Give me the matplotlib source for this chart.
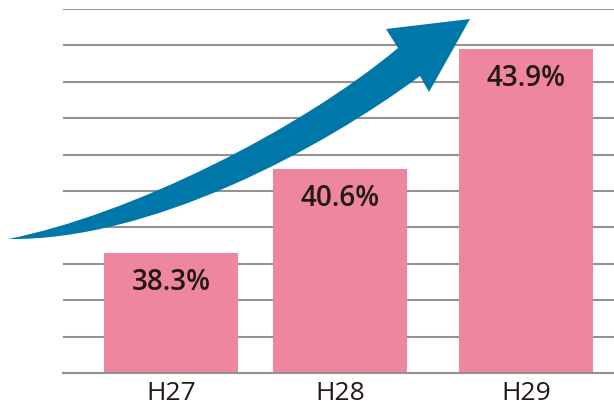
import numpy as np
import matplotlib
matplotlib.use('Agg')
import matplotlib.pyplot as plt
from matplotlib.path import Path
from matplotlib.patches import PathPatch
from matplotlib.transforms import Affine2D

years = ['H27', 'H28', 'H29']
rates = [38.3, 40.6, 43.9]
labels = ['38.3%', '40.6%', '43.9%']

pink = '#EE86A0'
blue = '#0077A9'
ink = '#231815'
grid = '#929292'

W, H = 614, 405
fig = plt.figure(figsize=(W / 100, H / 100), dpi=100)
ax = fig.add_axes([63 / W, 1 - 373 / H, 1 - 63 / W, (373 - 9) / H])

# the middle bar sits a little left of centre in the original
x = np.array([0, 0.955, 2])
ax.bar(x, rates, width=0.755, color=pink, zorder=2)
ax.set_ylim(35, 45)
ax.set_xlim(-0.608, 2.496)
ax.set_yticks(np.arange(35, 46, 1))
ax.yaxis.grid(True, color=grid, linewidth=1.5, zorder=0)
ax.tick_params(axis='y', left=False, labelleft=False)
ax.tick_params(axis='x', length=0, pad=6)
ax.set_xticks(x)
ax.set_xticklabels(years, fontsize=19, color=ink, family='Open Sans')
for s in ['top', 'right', 'left']:
    ax.spines[s].set_visible(False)
ax.spines['bottom'].set_color(grid)
ax.spines['bottom'].set_linewidth(1.5)
ax.spines['bottom'].set_zorder(3)

for xi, v, t in zip(x, rates, labels):
    ax.annotate(t, (xi, v), xytext=(0, -21), textcoords='offset points',
                ha='center', va='center', fontsize=20, fontweight='semibold',
                family='Open Sans', color=ink, zorder=4)

# curved arrow, drawn in pixel coordinates of the image
verts = [(8, 239),
         (130, 215), (300, 130), (398, 48),
         (386, 29), (470, 19), (429, 92), (420, 76),
         (320, 150), (150, 241), (8, 239),
         (8, 239)]
codes = [Path.MOVETO,
         Path.CURVE4, Path.CURVE4, Path.CURVE4,
         Path.LINETO, Path.LINETO, Path.LINETO, Path.LINETO,
         Path.CURVE4, Path.CURVE4, Path.CURVE4,
         Path.CLOSEPOLY]
px = Affine2D().scale(1 / W, -1 / H).translate(0, 1) + fig.transFigure
arrow = PathPatch(Path(verts, codes), facecolor=blue, edgecolor='none',
                  transform=px, clip_on=False, zorder=5)
ax.add_patch(arrow)

fig.savefig('out.png', dpi=100)
